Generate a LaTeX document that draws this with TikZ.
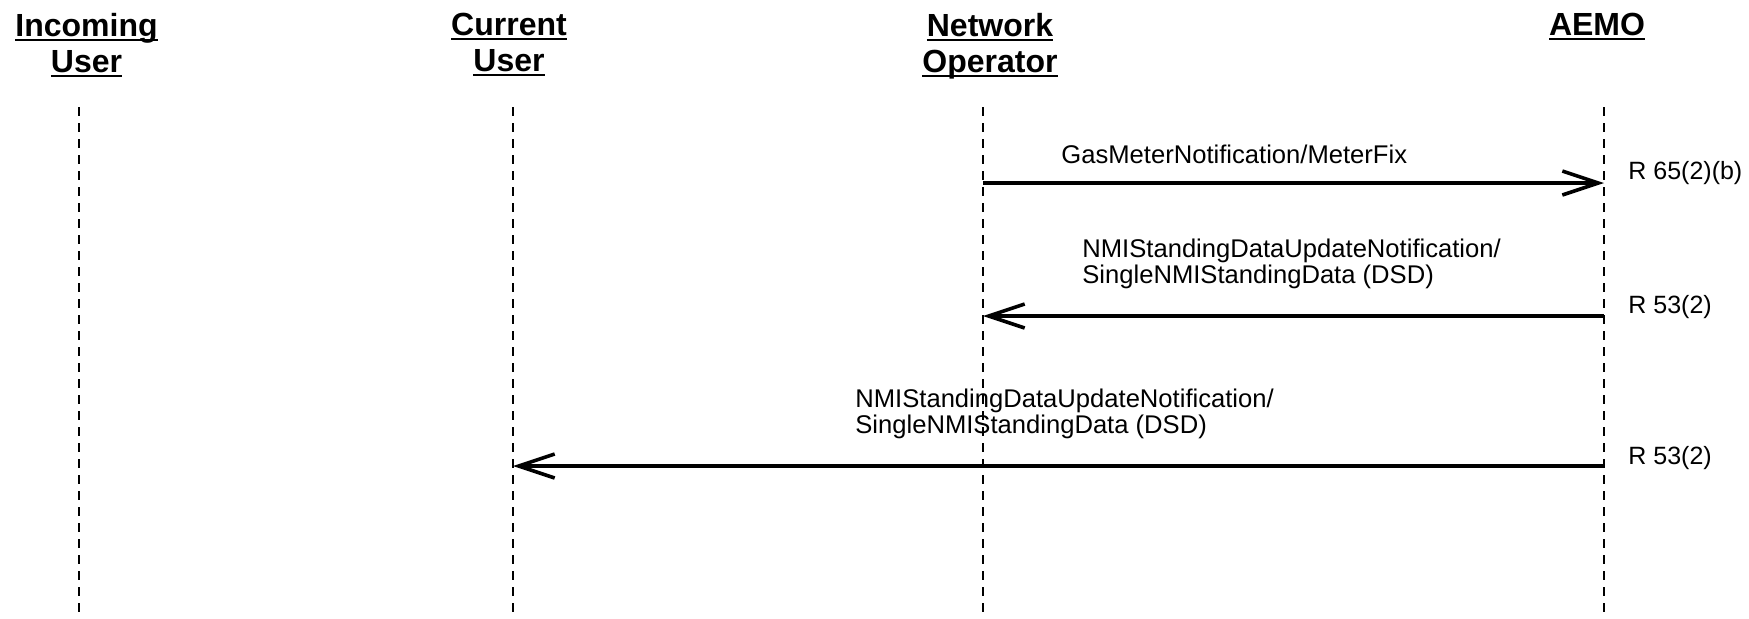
\documentclass[tikz,border=0pt]{standalone}
\usepackage{fontspec}
\setmainfont{Liberation Sans}
\usetikzlibrary{arrows.meta,positioning}
\newsavebox\hdrbox
\newcommand{\hdrul}[1]{\sbox\hdrbox{#1}\rlap{\rule[-2pt]{\wd\hdrbox}{1pt}}\usebox\hdrbox}

\begin{document}
\begin{tikzpicture}[x=0.5pt, y=-0.5pt, head/.style={align=center, inner sep=0pt, anchor=north, font=\fontsize{16}{18}\selectfont\bfseries}, msg/.style={align=left, inner sep=0pt, anchor=north west, font=\fontsize{12.8}{10.5}\selectfont}, rlab/.style={inner sep=0pt, anchor=base west, font=\fontsize{12.5}{15}\selectfont}, life/.style={dash pattern=on 4.5pt off 3.5pt, line width=0.75pt}, arr/.style={-{Straight Barb[length=18pt, width=12pt]}, line width=1.8pt}]
\useasboundingbox (0,0) rectangle (1749,618);
% participants
\node[head] (incoming) at (86.5,13) {\hdrul{Incoming}\\\hdrul{User}};
\node[head] (current) at (509,13) {\hdrul{Current}\\\hdrul{User}};
\node[head] (netop) at (990,13) {\hdrul{Network}\\\hdrul{Operator}};
\node[head] (aemo) at (1597,13) {\hdrul{AEMO}};
% lifelines
\coordinate (incoming-top) at (79,107);
\coordinate (incoming-bot) at (79,618);
\coordinate (current-top) at (513,107);
\coordinate (current-bot) at (513,618);
\coordinate (netop-top) at (983,107);
\coordinate (netop-bot) at (983,618);
\coordinate (aemo-top) at (1604,107);
\coordinate (aemo-bot) at (1604,618);
\draw[life] (incoming-top) -- (incoming-bot);
\draw[life] (current-top) -- (current-bot);
\draw[life] (netop-top) -- (netop-bot);
\draw[life] (aemo-top) -- (aemo-bot);
% message ends
\coordinate (fix-from) at (983,183);
\coordinate (fix-to) at (1604,183);
\coordinate (dsd1-from) at (1604,316);
\coordinate (dsd1-to) at (983,316);
\coordinate (dsd2-from) at (1604,466);
\coordinate (dsd2-to) at (513,466);
\draw[arr] (fix-from) -- (fix-to);
\draw[arr] (dsd1-from) -- (dsd1-to);
\draw[arr] (dsd2-from) -- (dsd2-to);
% labels
\node[msg, anchor=base west] (fixlab) at (1061,163) {GasMeterNotification/MeterFix};
\node[msg] (dsd1lab) at (1082,239) {NMIStandingDataUpdateNotification/\\SingleNMIStandingData (DSD)};
\node[msg] (dsd2lab) at (855,389) {NMIStandingDataUpdateNotification/\\SingleNMIStandingData (DSD)};
\node[rlab] (fixrule) at (1628,179) {R 65(2)(b)};
\node[rlab] (dsd1rule) at (1628,313) {R 53(2)};
\node[rlab] (dsd2rule) at (1628,464) {R 53(2)};
\end{tikzpicture}
\end{document}
